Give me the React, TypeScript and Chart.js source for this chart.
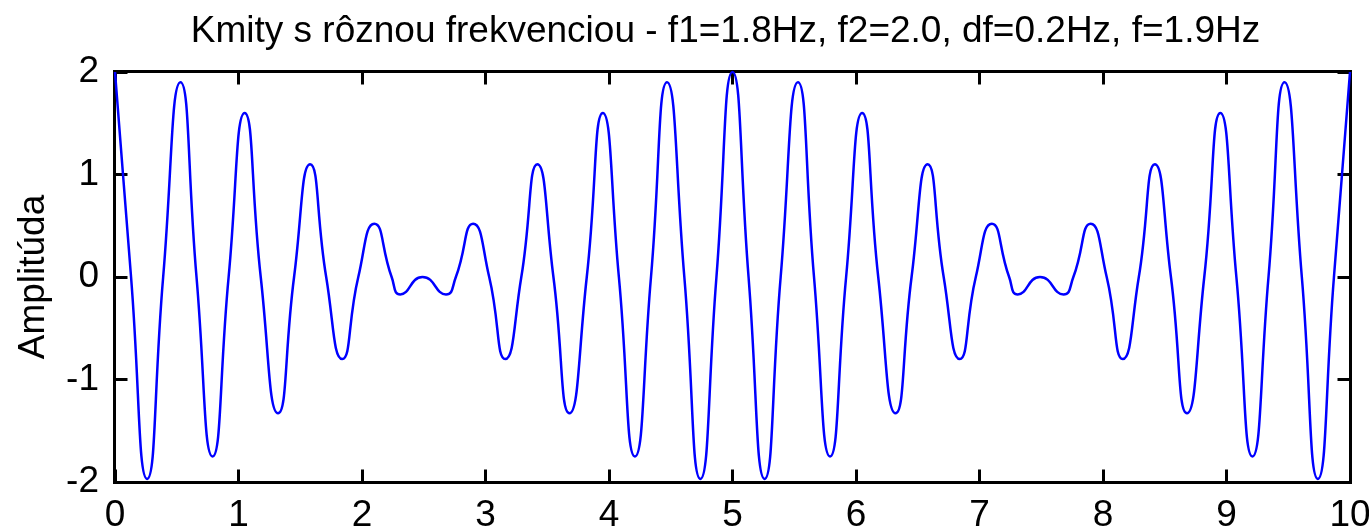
import React, { useEffect, useRef } from "react";
import { Chart, registerables } from "chart.js";

Chart.register(...registerables);

const titleText = "Kmity s rôznou frekvenciou - f1=1.8Hz, f2=2.0, df=0.2Hz, f=1.9Hz";
const yAxisLabel = "Amplitúda";
const xTickValues = [0, 1, 2, 3, 4, 5, 6, 7, 8, 9, 10];
const yTickValues = [-2, -1, 0, 1, 2];

// extrema and zero crossings
const timeS = [
  0.0, 0.13, 0.26, 0.39, 0.53, 0.66, 0.79, 0.92, 1.05, 1.18,
  1.32, 1.45, 1.58, 1.71, 1.84, 1.97, 2.1, 2.24, 2.31, 2.49,
  2.68, 2.76, 2.9, 3.03, 3.16, 3.29, 3.42, 3.55, 3.68, 3.82,
  3.95, 4.08, 4.21, 4.34, 4.47, 4.61, 4.74, 4.87, 5.0, 5.13,
  5.26, 5.39, 5.53, 5.66, 5.79, 5.92, 6.05, 6.18, 6.32, 6.45,
  6.58, 6.71, 6.84, 6.97, 7.1, 7.24, 7.31, 7.49, 7.68, 7.76,
  7.9, 8.03, 8.16, 8.29, 8.42, 8.55, 8.68, 8.82, 8.95, 9.08,
  9.21, 9.34, 9.47, 9.61, 9.74, 9.87, 10.0,
];
const amplitude = [
  2.0, 0, -1.97, 0, 1.9, 0, -1.75, 0, 1.6, 0,
  -1.33, 0, 1.1, 0, -0.8, 0, 0.52, 0, -0.17, 0.0,
  -0.17, 0, 0.52, 0, -0.8, 0, 1.1, 0, -1.33, 0,
  1.6, 0, -1.75, 0, 1.9, 0, -1.97, 0, 2.0, 0,
  -1.97, 0, 1.9, 0, -1.75, 0, 1.6, 0, -1.33, 0,
  1.1, 0, -0.8, 0, 0.52, 0, -0.17, 0.0, -0.17, 0,
  0.52, 0, -0.8, 0, 1.1, 0, -1.33, 0, 1.6, 0,
  -1.75, 0, 1.9, 0, -1.97, 0, 2.0,
];

const FONT = "'Liberation Sans', Arial, Helvetica, sans-serif";
const FONT_SIZE = 37;

const framePlugin = {
  id: "matlabFrame",
  beforeDatasetsDraw(chart: any) {
    const { ctx, chartArea: a, scales } = chart;
    const xs = scales.x;
    const ys = scales.y;
    const L = a.left - 0.5;
    const R = a.right + 0.5;
    const T = a.top - 0.5;
    const B = a.bottom + 0.5;
    const tickLen = 13;
    ctx.save();
    ctx.strokeStyle = "#000000";
    ctx.lineWidth = 3;
    ctx.beginPath();
    ctx.rect(L, T, R - L, B - T);
    ctx.stroke();
    ctx.beginPath();
    xTickValues.forEach((v) => {
      const px = Math.floor(xs.getPixelForValue(v)) + 0.5;
      ctx.moveTo(px, B);
      ctx.lineTo(px, B - tickLen);
      ctx.moveTo(px, T);
      ctx.lineTo(px, T + tickLen);
    });
    yTickValues.forEach((v) => {
      const py = Math.floor(ys.getPixelForValue(v)) + 0.5;
      ctx.moveTo(L, py);
      ctx.lineTo(L + tickLen, py);
      ctx.moveTo(R, py);
      ctx.lineTo(R - tickLen, py);
    });
    ctx.stroke();
    ctx.restore();
  },
  afterDraw(chart: any) {
    const { ctx } = chart;
    ctx.save();
    ctx.fillStyle = "#000000";
    ctx.font = `${FONT_SIZE}px ${FONT}`;
    ctx.textAlign = "center";
    ctx.textBaseline = "alphabetic";
    ctx.fillText(titleText, 725.5, 42);
    ctx.restore();
  },
};

export default function App() {
  const canvasRef = useRef<HTMLCanvasElement | null>(null);

  useEffect(() => {
    const canvas = canvasRef.current;
    if (!canvas) return;
    const points = timeS.map((t, i) => ({ x: t, y: amplitude[i] }));
    const chart = new Chart(canvas, {
      type: "line",
      data: {
        datasets: [
          {
            data: points,
            borderColor: "#0000FF",
            borderWidth: 2.5,
            pointRadius: 0,
            tension: 0.55,
            fill: false,
            clip: 3,
          },
        ],
      },
      options: {
        animation: false,
        responsive: false,
        maintainAspectRatio: false,
        layout: { padding: { left: 0, right: 0, top: 72, bottom: 0 } },
        plugins: {
          legend: { display: false },
          title: { display: false },
          tooltip: { enabled: false },
        },
        scales: {
          x: {
            type: "linear",
            min: 0,
            max: 10,
            border: { display: false },
            grid: { display: false, drawTicks: false },
            ticks: {
              stepSize: 1,
              padding: 12,
              color: "#000000",
              maxRotation: 0,
              autoSkip: false,
              font: { family: FONT, size: FONT_SIZE },
            },
            afterFit: (s: any) => {
              s.height = 50;
              s.paddingLeft = 0;
              s.paddingRight = 19;
            },
          },
          y: {
            type: "linear",
            min: -2,
            max: 2,
            border: { display: false },
            grid: { display: false, drawTicks: false },
            ticks: {
              stepSize: 1,
              padding: 16,
              color: "#000000",
              font: { family: FONT, size: FONT_SIZE },
            },
            title: {
              display: true,
              text: yAxisLabel,
              color: "#000000",
              font: { family: FONT, size: FONT_SIZE },
              padding: { top: 12, bottom: 0 },
            },
            afterFit: (s: any) => {
              s.width = 115;
              s.paddingTop = 0;
              s.paddingBottom = 0;
            },
          },
        },
      },
      plugins: [framePlugin],
    });
    return () => chart.destroy();
  }, []);

  return (
    <div style={{ position: "absolute", left: 0, top: 0, width: 1369, height: 532, background: "#ffffff" }}>
      <canvas ref={canvasRef} width={1369} height={532} />
    </div>
  );
}
